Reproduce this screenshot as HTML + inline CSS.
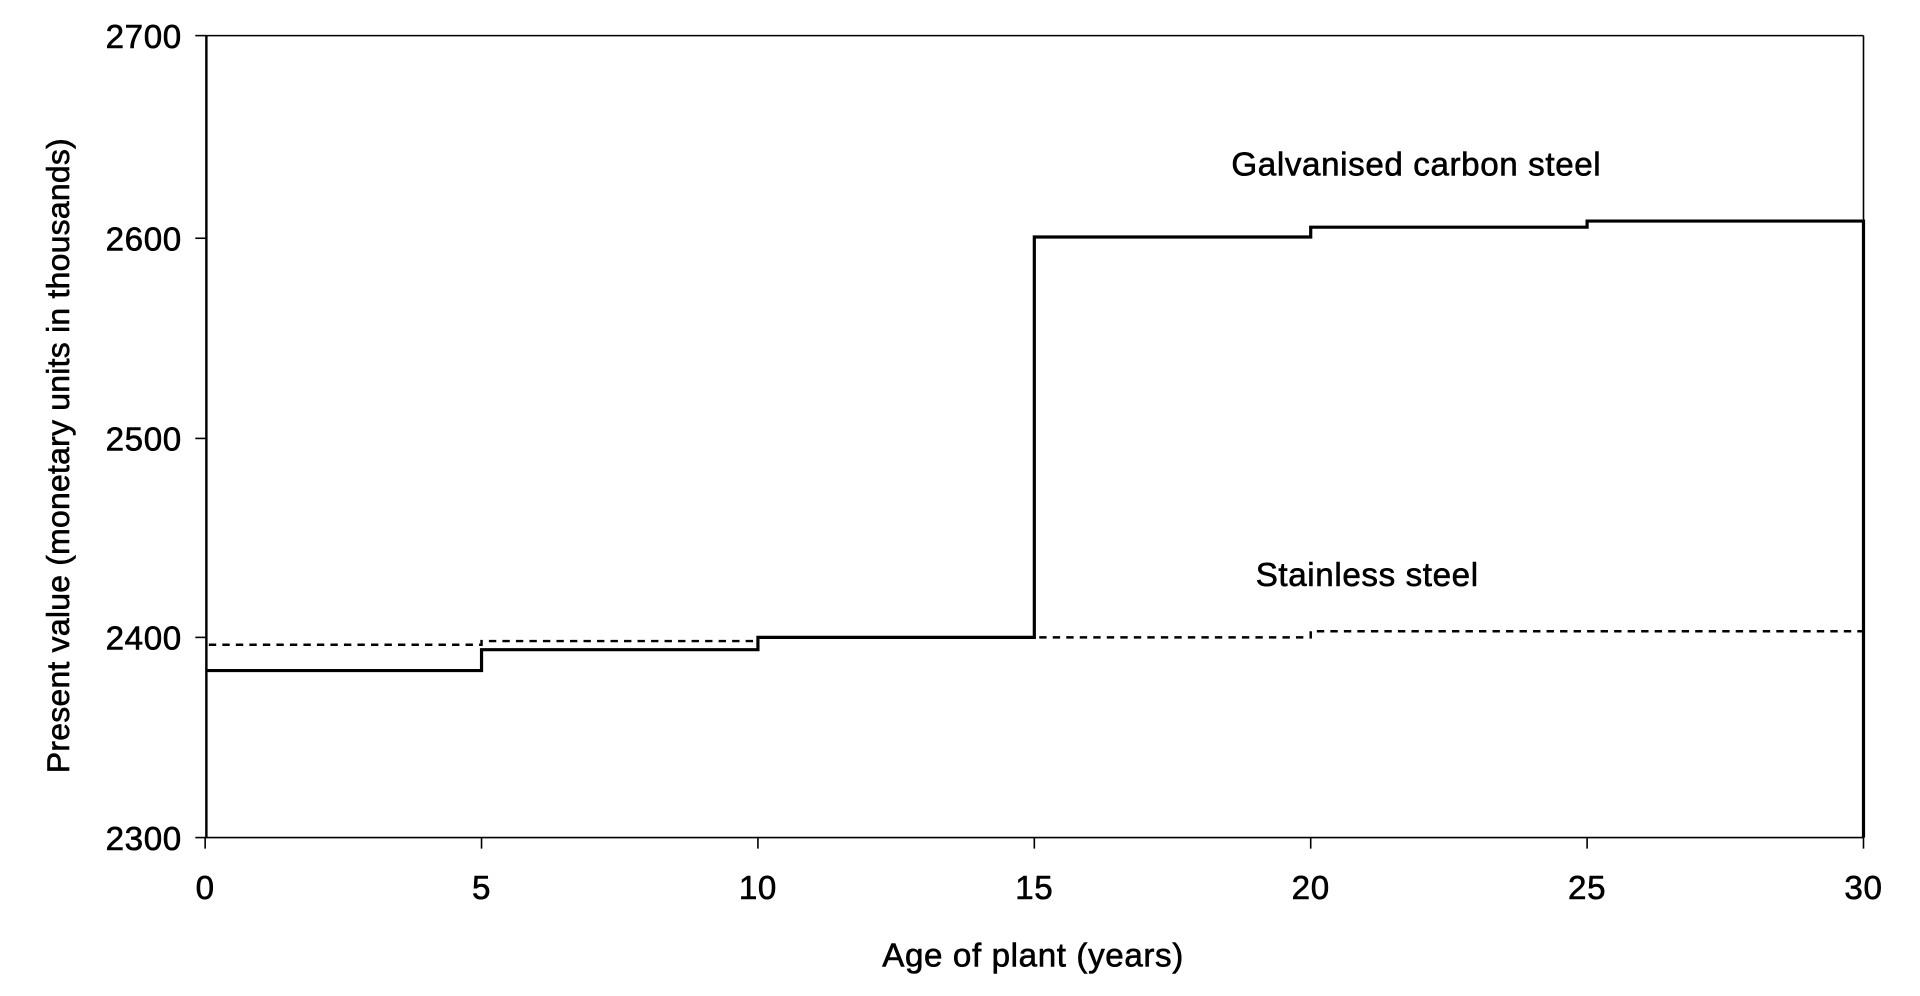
<!DOCTYPE html>
<html><head><meta charset="utf-8"><style>
html,body{margin:0;padding:0;background:#fff;}
svg{display:block;}
text{font-family:"Liberation Sans",Arial,sans-serif;fill:#000;stroke:#000;stroke-width:0.5;}
</style></head><body>
<svg width="1920" height="996" viewBox="0 0 1563 811" preserveAspectRatio="none" xmlns="http://www.w3.org/2000/svg">
<rect width="1563" height="811" fill="#fff"/>
<line x1="168" y1="29" x2="1517" y2="29" stroke="#000" stroke-width="1.3"/>
<line x1="1517" y1="29" x2="1517" y2="682" stroke="#000" stroke-width="1.3"/>
<line x1="167" y1="682" x2="1517" y2="682" stroke="#000" stroke-width="1.3"/>
<line x1="168" y1="29" x2="168" y2="682" stroke="#000" stroke-width="2"/>
<g stroke="#000" stroke-width="1.3">
<line x1="159" y1="29" x2="168" y2="29"/>
<line x1="159" y1="194" x2="168" y2="194"/>
<line x1="159" y1="357" x2="168" y2="357"/>
<line x1="159" y1="519" x2="168" y2="519"/>
<line x1="159" y1="682" x2="168" y2="682"/>
<line x1="167" y1="682" x2="167" y2="691"/>
<line x1="392" y1="682" x2="392" y2="691"/>
<line x1="617" y1="682" x2="617" y2="691"/>
<line x1="842" y1="682" x2="842" y2="691"/>
<line x1="1067" y1="682" x2="1067" y2="691"/>
<line x1="1292" y1="682" x2="1292" y2="691"/>
<line x1="1517" y1="682" x2="1517" y2="691"/>
</g>
<g font-size="27" text-anchor="end" letter-spacing="0.5">
<text x="148" y="39">2700</text>
<text x="148" y="204">2600</text>
<text x="148" y="367">2500</text>
<text x="148" y="529">2400</text>
<text x="148" y="692">2300</text>
</g>
<g font-size="27" text-anchor="middle" letter-spacing="0.5">
<text x="167" y="732">0</text>
<text x="392" y="732">5</text>
<text x="617" y="732">10</text>
<text x="842" y="732">15</text>
<text x="1067" y="732">20</text>
<text x="1292" y="732">25</text>
<text x="1517" y="732">30</text>
</g>
<text x="841" y="787" font-size="27" text-anchor="middle" letter-spacing="0.5">Age of plant (years)</text>
<text transform="translate(56,371) rotate(-90)" font-size="26" text-anchor="middle" letter-spacing="0.2">Present value (monetary units in thousands)</text>
<text x="1153" y="143" font-size="27" text-anchor="middle" letter-spacing="0.5">Galvanised carbon steel</text>
<text x="1113" y="477" font-size="27" text-anchor="middle" letter-spacing="0.5">Stainless steel</text>
<polyline fill="none" stroke="#000" stroke-width="2.6" points="168,546 392,546 392,529 617,529 617,519 842,519 842,193 1067,193 1067,185 1292,185 1292,180 1517,180 1517,682"/>
<polyline fill="none" stroke="#000" stroke-width="2" stroke-dasharray="6,5" points="170,525 392,525 392,522 617,522 617,519 1067,519 1067,514 1517,514"/>
</svg>
</body></html>
